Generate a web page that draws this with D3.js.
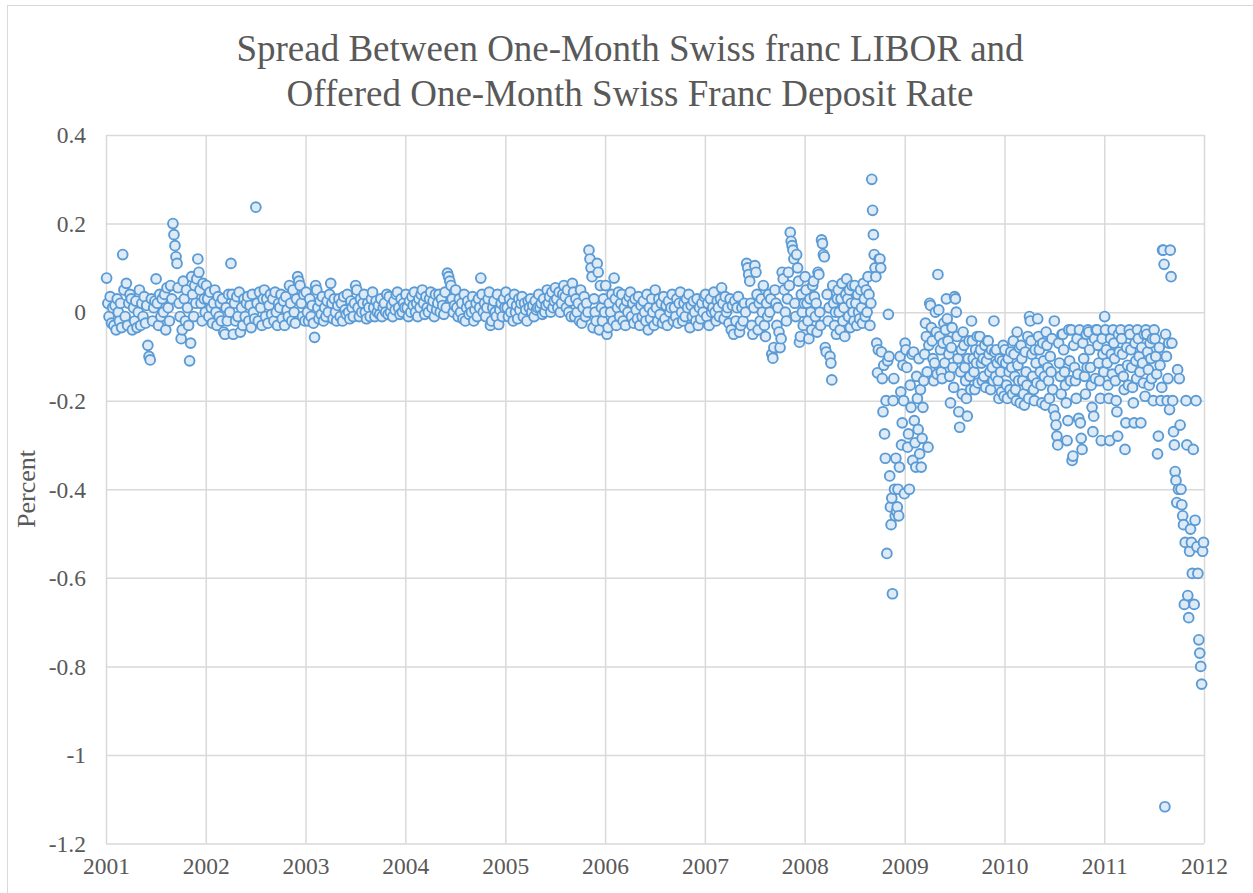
<!DOCTYPE html>
<html lang="en">
  <head>
    <meta charset="UTF-8" />
    <title>Spread Between One-Month Swiss franc LIBOR and Deposit Rate</title>
    <style>
      body {
        margin: 0;
        background: #fff;
      }

      text {
        font-family: "Liberation Serif", "Times New Roman", serif;
        fill: #595959;
      }

      .grid line {
        stroke: #d9d9d9;
        stroke-width: 1.5px;
      }

      .dot {
        fill: #deebf7;
        stroke: #5b9bd5;
        stroke-width: 1.9px;
      }

      .chart-border {
        fill: none;
        stroke: #d9d9d9;
        stroke-width: 1px;
      }
    </style>
  </head>
  <body>
    <script src="https://cdn.jsdelivr.net/npm/d3@7"></script>
    <script>

      // one array per year, one row per month (values in percent)
      var data2001 = [
        [0.077, 0.02, -0.01, 0.035, -0.025, 0.01, -0.03],
        [0.015, -0.04, 0.03, 0.0, -0.02, 0.02, -0.035],
        [0.13, 0.05, -0.01, 0.065, -0.03, 0.02, 0.04],
        [0.03, -0.04, 0.01, -0.02, 0.025, -0.035, 0.0],
        [0.05, -0.03, 0.02, -0.01, 0.035, -0.025, 0.015],
        [-0.075, -0.1, -0.108, 0.03, -0.02, 0.01, 0.025],
        [0.075, 0.02, -0.03, 0.04, -0.01, 0.03, 0.0],
        [0.04, -0.04, 0.055, 0.01, -0.02, 0.06, 0.03],
        [0.2, 0.175, 0.15, 0.125, 0.11, 0.055, 0.02, -0.01],
        [-0.06, -0.04, 0.07, 0.03, -0.02, 0.05, 0.01, -0.03],
        [-0.11, -0.07, 0.08, 0.04, -0.01, 0.06, 0.02, 0.075],
        [0.12, 0.09, 0.05, 0.02, -0.02, 0.065, 0.03, 0.0]
      ];

      var data2002 = [
        [0.06, 0.03, -0.01, 0.045, 0.01, -0.025, 0.02],
        [0.05, 0.0, -0.03, 0.035, -0.01, 0.02, -0.02],
        [0.03, -0.045, -0.05, 0.01, -0.02, 0.04, 0.0],
        [0.11, 0.04, -0.05, 0.02, -0.02, 0.035, -0.01],
        [0.045, -0.045, 0.01, -0.03, 0.03, -0.01, 0.02],
        [0.035, -0.02, 0.015, -0.035, 0.04, 0.0, -0.015],
        [0.237, 0.02, -0.02, 0.045, 0.01, -0.03, 0.03],
        [0.05, -0.01, 0.03, -0.025, 0.015, 0.04, -0.005],
        [0.03, -0.02, 0.045, 0.0, -0.03, 0.02, 0.01],
        [0.04, -0.015, 0.025, -0.03, 0.035, 0.005, -0.01],
        [0.06, 0.02, -0.02, 0.05, 0.0, -0.025, 0.03],
        [0.08, 0.07, 0.06, 0.02, -0.01, 0.04, -0.02]
      ];

      var data2003 = [
        [0.045, 0.0, -0.02, 0.03, -0.01, 0.015, -0.025],
        [-0.057, 0.06, 0.05, 0.01, -0.015, 0.025, -0.005],
        [0.035, -0.02, 0.01, -0.01, 0.025, 0.0, 0.04],
        [0.065, 0.02, -0.015, 0.03, 0.0, -0.02, 0.015],
        [0.03, -0.01, 0.02, -0.02, 0.035, 0.005, -0.005],
        [0.04, 0.0, -0.015, 0.025, 0.01, -0.01, 0.02],
        [0.06, 0.05, 0.01, -0.01, 0.03, 0.0, 0.02],
        [0.04, 0.0, -0.015, 0.02, 0.01, -0.01, 0.03],
        [0.045, 0.01, -0.01, 0.025, 0.0, 0.015, -0.005],
        [0.03, -0.01, 0.01, 0.02, 0.0, 0.04, -0.005],
        [0.035, 0.0, 0.015, -0.01, 0.025, 0.005, 0.04],
        [0.045, 0.01, -0.005, 0.03, 0.0, 0.02, 0.01]
      ];

      var data2004 = [
        [0.04, 0.01, -0.01, 0.025, 0.0, 0.035, 0.015],
        [0.045, 0.0, 0.02, -0.01, 0.03, 0.01, 0.04],
        [0.05, 0.02, -0.005, 0.035, 0.01, 0.0, 0.03],
        [0.045, 0.01, 0.025, -0.01, 0.04, 0.005, 0.02],
        [0.04, 0.0, 0.03, 0.015, -0.005, 0.045, 0.01],
        [0.088, 0.08, 0.07, 0.06, 0.03, 0.0, 0.015],
        [0.05, 0.01, -0.01, 0.03, 0.0, 0.02, -0.015],
        [0.04, -0.02, 0.01, 0.025, -0.005, 0.015, 0.0],
        [0.035, -0.02, 0.005, 0.02, -0.01, 0.03, 0.01],
        [0.077, 0.04, 0.0, 0.02, -0.01, 0.01, 0.03],
        [0.045, -0.03, -0.02, 0.01, 0.025, 0.0, -0.01],
        [0.04, -0.028, 0.005, 0.02, -0.01, 0.03, 0.01]
      ];

      var data2005 = [
        [0.045, 0.01, -0.01, 0.03, 0.0, 0.02, -0.02],
        [0.04, 0.0, 0.015, -0.015, 0.03, 0.005, 0.02],
        [0.035, -0.01, 0.02, 0.005, -0.02, 0.025, 0.01],
        [0.03, 0.0, 0.015, -0.01, 0.025, 0.005, 0.01],
        [0.04, 0.01, 0.02, -0.005, 0.03, 0.0, 0.015],
        [0.05, 0.02, 0.035, 0.0, 0.045, 0.01, 0.025],
        [0.055, 0.03, 0.01, 0.045, 0.0, 0.02, 0.04],
        [0.06, 0.035, 0.01, 0.05, 0.0, 0.025, -0.01],
        [0.065, 0.045, -0.01, 0.03, 0.0, 0.02, -0.02],
        [0.05, -0.025, 0.01, 0.035, -0.01, 0.02, 0.0],
        [0.14, 0.12, 0.1, 0.08, -0.035, 0.03, 0.0, -0.02],
        [0.11, 0.09, -0.04, 0.06, 0.01, -0.02, 0.03, 0.0]
      ];

      var data2006 = [
        [0.06, -0.05, -0.035, 0.02, 0.0, 0.04, -0.02],
        [0.077, 0.03, -0.03, 0.01, 0.045, -0.01, 0.02],
        [0.04, -0.02, 0.01, -0.03, 0.025, 0.0, 0.035],
        [0.045, -0.01, 0.02, -0.025, 0.03, 0.005, -0.015],
        [0.035, -0.03, 0.015, -0.01, 0.025, 0.0, -0.02],
        [0.04, -0.04, 0.01, -0.015, 0.03, 0.0, -0.03],
        [0.05, 0.01, -0.02, 0.03, -0.005, 0.02, -0.025],
        [0.035, -0.015, 0.015, -0.03, 0.025, 0.0, 0.01],
        [0.04, -0.02, 0.01, -0.01, 0.03, -0.025, 0.02],
        [0.045, 0.0, -0.02, 0.02, -0.01, 0.03, 0.01],
        [0.04, -0.035, 0.015, -0.01, 0.025, 0.0, -0.02],
        [0.03, -0.03, 0.01, -0.015, 0.02, 0.0, 0.035]
      ];

      var data2007 = [
        [0.04, -0.01, 0.02, -0.03, 0.03, 0.0, 0.01],
        [0.045, 0.0, -0.02, 0.025, 0.01, -0.01, 0.03],
        [0.055, 0.02, -0.015, 0.035, 0.0, 0.01, -0.025],
        [0.03, -0.04, 0.015, -0.05, 0.025, -0.02, 0.01],
        [0.035, -0.045, -0.03, 0.01, -0.02, 0.02, 0.0],
        [0.11, 0.1, 0.085, 0.07, 0.02, -0.03, -0.05, 0.01],
        [0.105, 0.09, 0.04, -0.04, 0.02, -0.02, 0.03, 0.0],
        [0.06, -0.03, -0.055, 0.02, -0.01, 0.04, 0.0, 0.03],
        [-0.095, -0.104, -0.08, 0.05, 0.02, -0.03, 0.01, -0.045],
        [-0.08, -0.06, 0.09, 0.075, 0.05, 0.0, -0.02, 0.03],
        [0.09, 0.06, 0.18, 0.16, 0.15, 0.14, 0.12, 0.02, -0.01],
        [0.13, 0.1, 0.07, -0.068, -0.055, 0.04, 0.0, -0.03, 0.02]
      ];

      var data2008 = [
        [0.08, 0.05, 0.02, -0.02, -0.06, 0.03, 0.0, -0.04, 0.06],
        [0.07, 0.035, -0.01, 0.02, -0.045, 0.09, 0.085, 0.0, -0.03],
        [0.163, 0.155, 0.13, 0.125, -0.08, -0.09, 0.04, -0.02, 0.01],
        [-0.1, -0.115, -0.153, 0.06, 0.02, -0.03, 0.0, -0.05, 0.03],
        [0.05, 0.0, -0.04, 0.03, 0.065, -0.02, 0.01, -0.055, 0.04],
        [0.075, 0.03, -0.01, 0.05, -0.035, 0.02, 0.06, 0.0, -0.02],
        [0.06, 0.02, -0.03, 0.04, 0.0, -0.015, 0.05, 0.01, -0.025],
        [0.065, 0.03, -0.01, 0.05, 0.0, 0.08, 0.04, -0.03, 0.02],
        [0.30, 0.23, 0.175, 0.13, 0.1, 0.08, -0.07, -0.137, -0.085, 0.12],
        [0.12, 0.1, -0.09, -0.15, -0.225, -0.12, -0.275, -0.33, -0.2, -0.545, -0.11],
        [-0.005, -0.1, -0.37, -0.44, -0.48, -0.42, -0.636, -0.2, -0.15, -0.4, -0.46, -0.33],
        [-0.45, -0.44, -0.4, -0.46, -0.35, -0.1, -0.18, -0.3, -0.25, -0.12, -0.2, -0.41]
      ];

      var data2009 = [
        [-0.07, -0.085, -0.125, -0.305, -0.275, -0.4, -0.165, -0.215, -0.095, -0.335],
        [-0.09, -0.245, -0.295, -0.35, -0.145, -0.195, -0.265, -0.105, -0.32, -0.175],
        [-0.35, -0.285, -0.215, -0.155, -0.095, -0.025, -0.055, -0.135, -0.305, -0.075],
        [0.02, 0.015, -0.035, -0.065, -0.105, -0.155, -0.115, 0.0, -0.045, -0.14],
        [0.085, 0.005, -0.055, -0.085, -0.135, -0.15, -0.07, -0.025, -0.115, -0.04],
        [0.03, -0.015, -0.065, -0.095, -0.145, -0.205, -0.08, -0.035, -0.125, -0.17],
        [0.035, 0.03, 0.0, -0.055, -0.105, -0.225, -0.26, -0.135, -0.085, -0.185],
        [-0.045, -0.075, -0.125, -0.155, -0.195, -0.235, -0.105, -0.065, -0.145, -0.175],
        [-0.02, -0.065, -0.105, -0.135, -0.175, -0.085, -0.115, -0.055, -0.16, -0.095],
        [-0.055, -0.085, -0.115, -0.155, -0.105, -0.145, -0.075, -0.17, -0.11, -0.065],
        [-0.065, -0.095, -0.135, -0.175, -0.085, -0.125, -0.155, -0.02, -0.09, -0.145],
        [-0.085, -0.115, -0.155, -0.195, -0.105, -0.135, -0.18, -0.11, -0.075, -0.19]
      ];

      var data2010 = [
        [-0.085, -0.115, -0.165, -0.195, -0.105, -0.135, -0.175, -0.09, -0.125, -0.185],
        [-0.065, -0.095, -0.145, -0.175, -0.2, -0.045, -0.12, -0.155, -0.08, -0.205],
        [-0.075, -0.105, -0.155, -0.185, -0.21, -0.09, -0.135, -0.165, -0.055, -0.195],
        [-0.01, -0.02, -0.065, -0.095, -0.145, -0.175, -0.2, -0.085, -0.115, -0.16],
        [-0.015, -0.055, -0.085, -0.135, -0.165, -0.205, -0.07, -0.11, -0.145, -0.21],
        [-0.045, -0.075, -0.125, -0.155, -0.195, -0.1, -0.135, -0.06, -0.175, -0.22],
        [-0.02, -0.235, -0.255, -0.28, -0.3, -0.07, -0.115, -0.145, -0.185, -0.05],
        [-0.05, -0.085, -0.135, -0.165, -0.205, -0.29, -0.245, -0.04, -0.11, -0.155],
        [-0.04, -0.335, -0.325, -0.075, -0.125, -0.155, -0.195, -0.06, -0.14, -0.24],
        [-0.04, -0.25, -0.285, -0.31, -0.07, -0.105, -0.145, -0.185, -0.05, -0.125],
        [-0.04, -0.045, -0.085, -0.125, -0.165, -0.215, -0.27, -0.235, -0.06, -0.15],
        [-0.04, -0.04, -0.075, -0.115, -0.155, -0.195, -0.29, -0.06, -0.095, -0.135]
      ];

      var data2011 = [
        [-0.01, -0.04, -0.085, -0.115, -0.165, -0.195, -0.29, -0.06, -0.095, -0.14],
        [-0.04, -0.07, -0.105, -0.155, -0.2, -0.225, -0.28, -0.05, -0.09, -0.13],
        [-0.04, -0.06, -0.095, -0.145, -0.175, -0.31, -0.25, -0.08, -0.12, -0.165],
        [-0.04, -0.05, -0.085, -0.125, -0.17, -0.205, -0.25, -0.07, -0.11, -0.15],
        [-0.04, -0.06, -0.1, -0.135, -0.25, -0.08, -0.115, -0.16, -0.05, -0.19],
        [-0.04, -0.05, -0.09, -0.13, -0.165, -0.07, -0.105, -0.15, -0.06, -0.2],
        [-0.04, -0.06, -0.1, -0.14, -0.32, -0.28, -0.08, -0.12, -0.2, -0.17],
        [0.14, 0.14, 0.108, -1.117, -0.05, -0.1, -0.2, -0.15, -0.07, -0.22, 0.14],
        [0.08, -0.07, -0.2, -0.27, -0.3, -0.36, -0.38, -0.43, -0.13, -0.4],
        [-0.15, -0.255, -0.4, -0.435, -0.46, -0.48, -0.66, -0.52, -0.2, -0.3],
        [-0.64, -0.69, -0.54, -0.49, -0.52, -0.59, -0.31, -0.66, -0.47],
        [-0.2, -0.53, -0.59, -0.74, -0.77, -0.8, -0.84, -0.54, -0.52]
      ];

      var years = [2001, 2002, 2003, 2004, 2005, 2006, 2007, 2008, 2009, 2010, 2011];
      var yearData = [data2001, data2002, data2003, data2004, data2005, data2006,
                      data2007, data2008, data2009, data2010, data2011];

      var xTickLabels = ["2001", "2002", "2003", "2004", "2005", "2006",
                         "2007", "2008", "2009", "2010", "2011", "2012"];
      var yTickValues = [0.4, 0.2, 0, -0.2, -0.4, -0.6, -0.8, -1, -1.2];
      var yTickLabels = ["0.4", "0.2", "0", "-0.2", "-0.4", "-0.6", "-0.8", "-1", "-1.2"];

      var titleLines = ["Spread Between One-Month Swiss franc LIBOR and",
                        "Offered One-Month Swiss Franc Deposit Rate"];

      // flatten to dated points, spread evenly through each month
      var points = [];
      years.forEach(function(yr, yi) {
        yearData[yi].forEach(function(vals, m) {
          var start = new Date(yr, m, 1),
              end = new Date(yr, m + 1, 1);
          vals.forEach(function(v, i) {
            var t = start.getTime() + (end - start) * (i + 0.5) / vals.length;
            points.push({ date: new Date(t), value: v });
          });
        });
      });

      var w = 1253,
          h = 893;

      var plot = { left: 106, right: 1204, top: 135, bottom: 843.5 };

      var svg = d3.select("body").append("svg")
        .attr("width", w)
        .attr("height", h);

      svg.append("rect")
        .attr("class", "chart-border")
        .attr("x", 7.5)
        .attr("y", 5.5)
        .attr("width", w + 20)
        .attr("height", h + 20);

      var xScale = d3.scaleTime()
        .domain([new Date(2001, 0, 1), new Date(2012, 0, 1)])
        .range([plot.left, plot.right]);

      var yScale = d3.scaleLinear()
        .domain([-1.2, 0.4])
        .range([plot.bottom, plot.top]);

      var xTicks = xTickLabels.map(function(s) { return new Date(+s, 0, 1); });

      var xAxis = d3.axisBottom(xScale)
        .tickValues(xTicks)
        .tickSize(-(plot.bottom - plot.top))
        .tickPadding(14)
        .tickFormat(function(d, i) { return xTickLabels[i]; });

      var yAxis = d3.axisLeft(yScale)
        .tickValues(yTickValues)
        .tickSize(-(plot.right - plot.left))
        .tickPadding(20)
        .tickFormat(function(d, i) { return yTickLabels[i]; });

      var gx = svg.append("g")
        .attr("class", "grid")
        .attr("transform", "translate(0," + plot.bottom + ")")
        .call(xAxis);

      var gy = svg.append("g")
        .attr("class", "grid")
        .attr("transform", "translate(" + plot.left + ",0)")
        .call(yAxis);

      svg.selectAll(".domain").remove();

      gx.selectAll("text")
        .attr("font-size", "23.5px")
        .attr("dy", "0.71em");

      gy.selectAll("text")
        .attr("font-size", "23.5px")
        .attr("dy", "0.33em");

      // markers
      svg.append("g")
        .selectAll("circle")
        .data(points)
        .enter()
        .append("circle")
        .attr("class", "dot")
        .attr("cx", function(d) { return xScale(d.date); })
        .attr("cy", function(d) { return yScale(d.value); })
        .attr("r", 4.9);

      // title
      svg.append("g")
        .selectAll("text")
        .data(titleLines)
        .enter()
        .append("text")
        .attr("x", 630)
        .attr("y", function(d, i) { return 61 + i * 45; })
        .attr("text-anchor", "middle")
        .attr("font-size", "37px")
        .text(function(d) { return d; });

      svg.append("text")
        .attr("transform", "translate(35," + 489 + ") rotate(-90)")
        .attr("text-anchor", "middle")
        .attr("font-size", "26px")
        .text("Percent");

    </script>
  </body>
</html>
